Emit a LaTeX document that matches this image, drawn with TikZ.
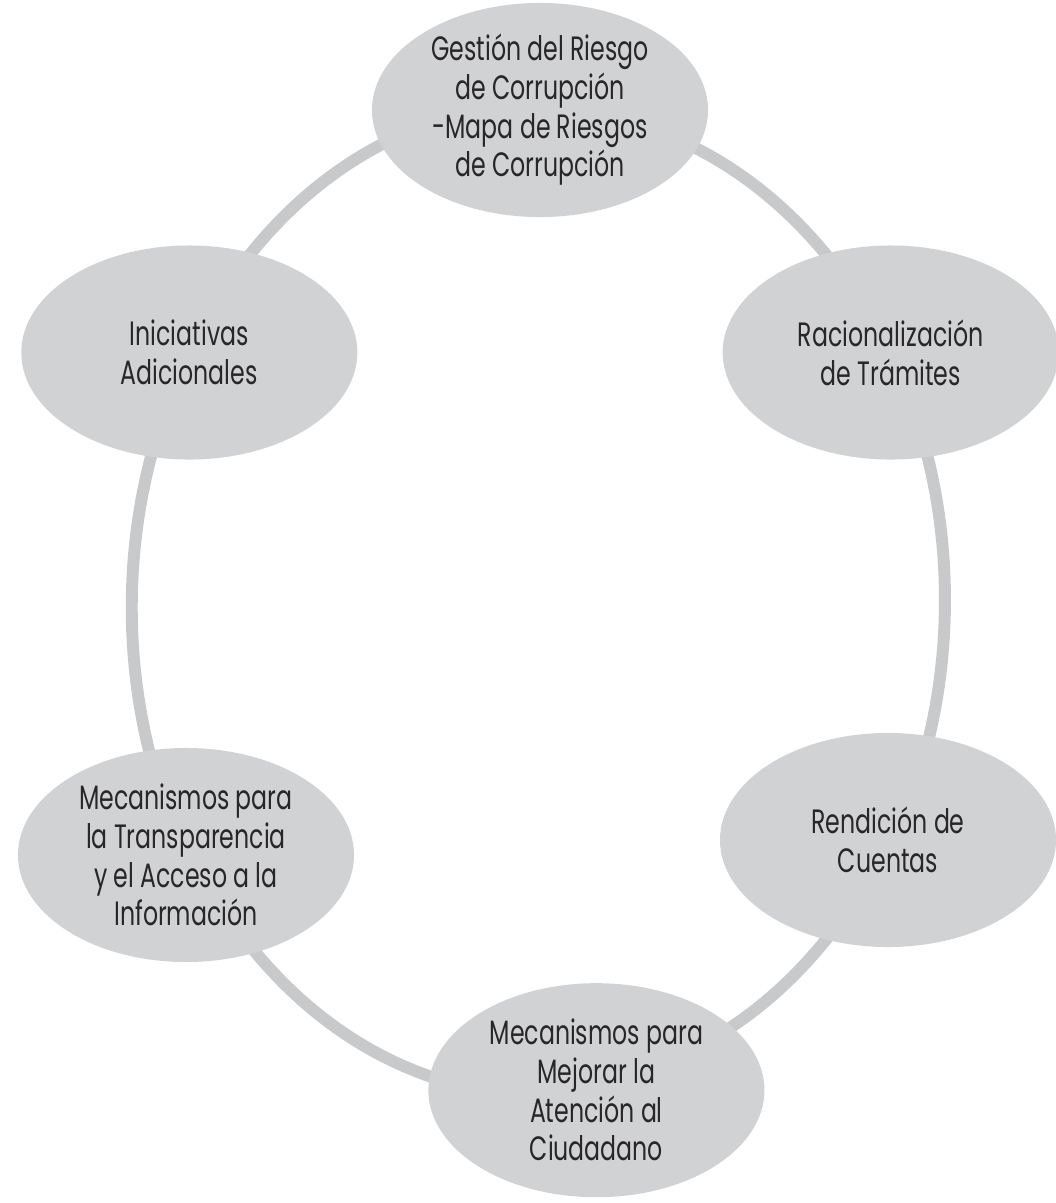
\documentclass[tikz,border=0pt]{standalone}
\usepackage{fontspec}
\setmainfont{Poppins}[FakeStretch=0.7]
\usepackage{tikz}
\usetikzlibrary{shapes.geometric}
\usetikzlibrary{backgrounds}
\definecolor{ringgray}{RGB}{200,201,203}
\definecolor{blobgray}{RGB}{209,210,212}
\definecolor{textgray}{RGB}{40,38,38}

\begin{document}
\begin{tikzpicture}[x=0.025cm, y=-0.025cm,
    blob/.style={ellipse, fill=blobgray, minimum width=8.4cm, minimum height=5.35cm,
        inner sep=0pt, align=center, text=textgray,
        font=\fontsize{24}{27.5}\selectfont},
    ring/.style={ringgray, line width=8.5pt}]
    \useasboundingbox (0, 0) rectangle (1055, 1203);
    % components, clockwise from the top
    \node [blob] (0) at (540, 110) {Gestión del Riesgo\\de Corrupción\\-Mapa de Riesgos\\de Corrupción};
    \node [blob] (1) at (890.7, 352.5) {Racionalización\\de Trámites};
    \node [blob] (2) at (888, 840) {Rendición de\\Cuentas};
    \node [blob] (3) at (596.4, 1090.2) {Mecanismos para\\Mejorar la\\Atención al\\Ciudadano};
    \node [blob] (4) at (186, 855) {Mecanismos para\\la Transparencia\\y el Acceso a la\\Información};
    \node [blob] (5) at (189.3, 352.5) {Iniciativas\\Adicionales};
    % ring behind the components
    \begin{scope}[on background layer]
    \draw [ring] (0.center) arc [start angle=270, end angle=330, x radius=405, y radius=495];
    \draw [ring] (1.center) arc [start angle=330, end angle=390, x radius=405, y radius=495];
    \draw [ring] (2.center) arc [start angle=30, end angle=82, x radius=405, y radius=495];
    \draw [ring] (3.center) arc [start angle=82, end angle=150, x radius=405, y radius=495];
    \draw [ring] (4.center) arc [start angle=150, end angle=210, x radius=405, y radius=495];
    \draw [ring] (5.center) arc [start angle=210, end angle=270, x radius=405, y radius=495];
    \end{scope}
\end{tikzpicture}
\end{document}
